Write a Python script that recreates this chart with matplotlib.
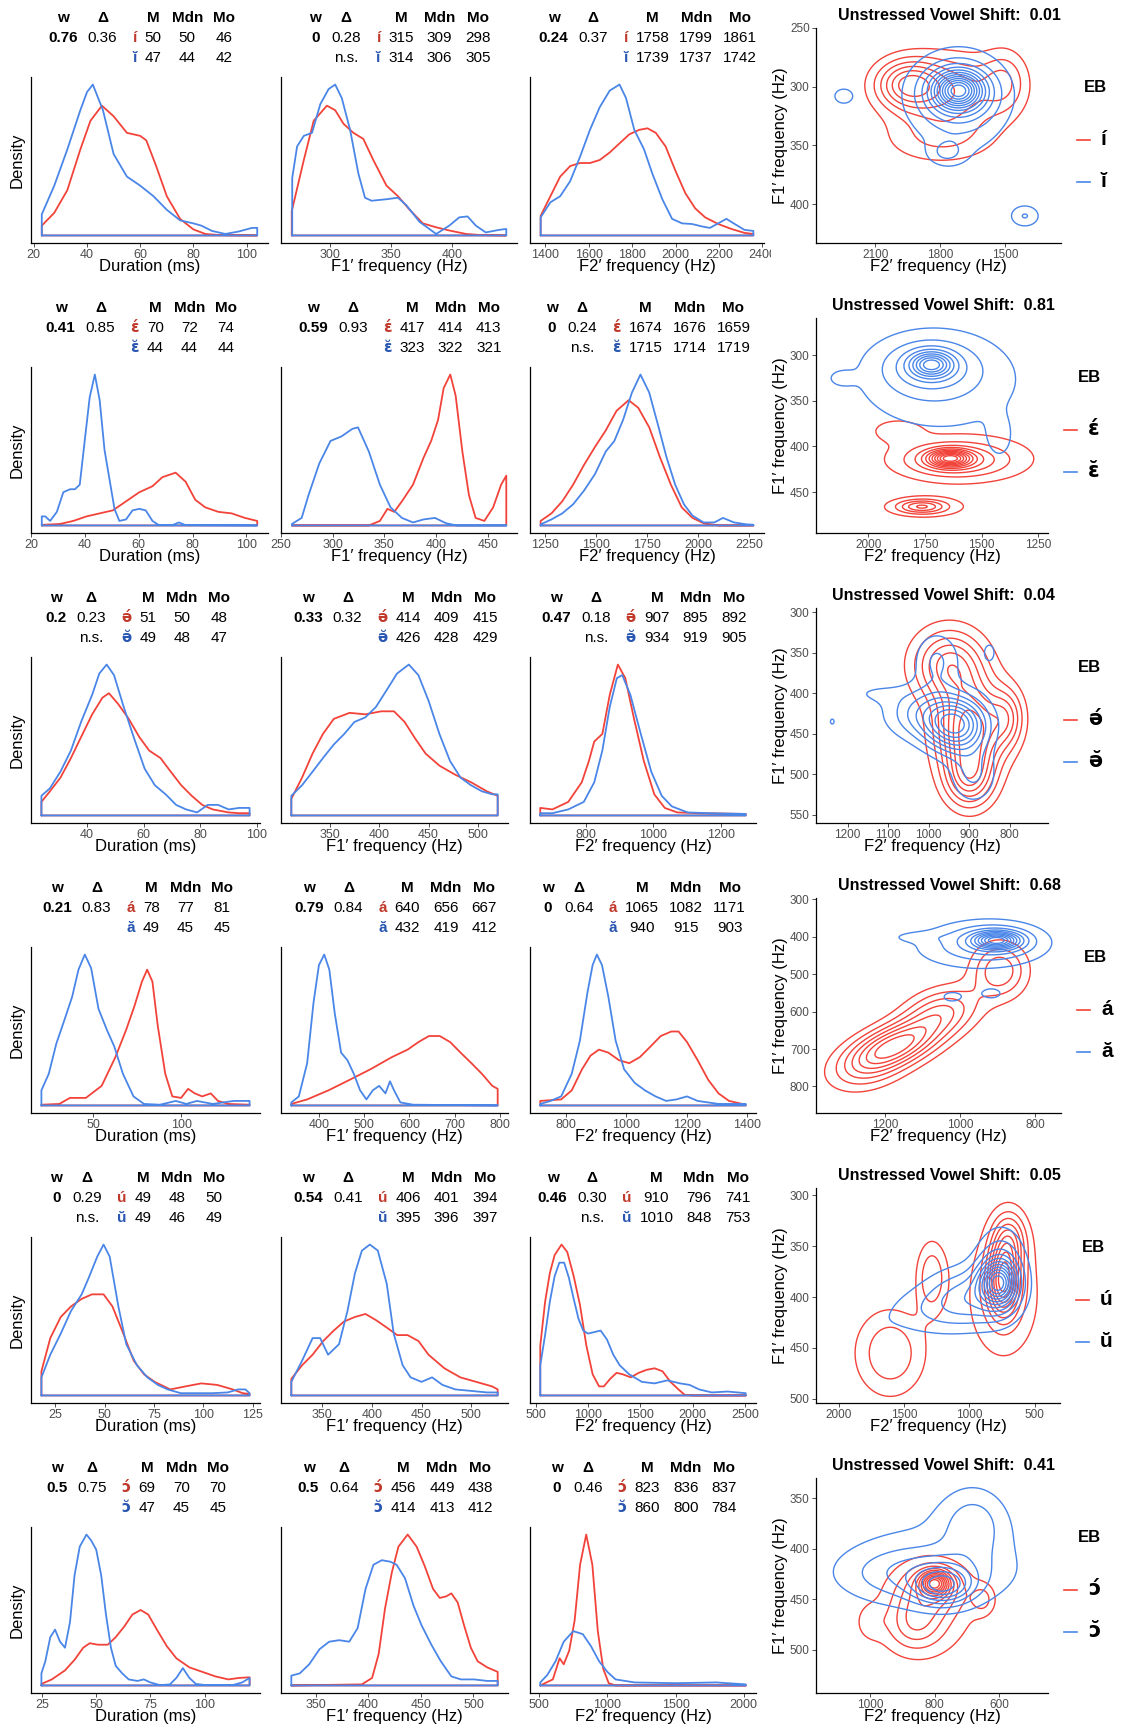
import numpy as np
import matplotlib
matplotlib.use('Agg')
import matplotlib.pyplot as plt
from matplotlib.lines import Line2D
from matplotlib.transforms import Bbox

plt.rcParams['font.family'] = ['Liberation Sans', 'DejaVu Sans']

W, H = 1122, 1729
RED = '#F2433A'
BLUE = '#4A86E8'
RED_T = '#C0392B'
BLUE_T = '#2856B0'
TICK_C = '#4D4D4D'

# ---------------- data ----------------
v_str = ['í', 'ɛ\u0301', 'ə\u0301', 'á', 'ú', 'ɔ\u0301']
v_uns = ['ĭ', 'ɛ\u0306', 'ə\u0306', 'ă', 'ŭ', 'ɔ\u0306']
shift_vals = ['0.01', '0.81', '0.04', '0.68', '0.05', '0.41']

w_vals = [['0.76', '0', '0.24'], ['0.41', '0.59', '0'], ['0.2', '0.33', '0.47'],
          ['0.21', '0.79', '0'], ['0', '0.54', '0.46'], ['0.5', '0.5', '0']]
delta_vals = [['0.36', '0.28', '0.37'], ['0.85', '0.93', '0.24'], ['0.23', '0.32', '0.18'],
              ['0.83', '0.84', '0.64'], ['0.29', '0.41', '0.30'], ['0.75', '0.64', '0.46']]
ns_flags = [[False, True, False], [False, False, True], [True, False, True],
            [False, False, False], [True, False, True], [False, False, False]]

stats_str = [[(50, 50, 46), (315, 309, 298), (1758, 1799, 1861)],
             [(70, 72, 74), (417, 414, 413), (1674, 1676, 1659)],
             [(51, 50, 48), (414, 409, 415), (907, 895, 892)],
             [(78, 77, 81), (640, 656, 667), (1065, 1082, 1171)],
             [(49, 48, 50), (406, 401, 394), (910, 796, 741)],
             [(69, 70, 70), (456, 449, 438), (823, 836, 837)]]
stats_uns = [[(47, 44, 42), (314, 306, 305), (1739, 1737, 1742)],
             [(44, 44, 44), (323, 322, 321), (1715, 1714, 1719)],
             [(49, 48, 47), (426, 428, 429), (934, 919, 905)],
             [(49, 45, 45), (432, 419, 412), (940, 915, 903)],
             [(49, 46, 49), (395, 396, 397), (1010, 848, 753)],
             [(47, 45, 45), (414, 413, 412), (860, 800, 784)]]

dens_xlabels = ['Duration (ms)', 'F1\u2032 frequency (Hz)', 'F2\u2032 frequency (Hz)']

ticks_dens = [[[20, 40, 60, 80, 100], [300, 350, 400], [1400, 1600, 1800, 2000, 2200, 2400]],
              [[20, 40, 60, 80, 100], [250, 300, 350, 400, 450], [1250, 1500, 1750, 2000, 2250]],
              [[40, 60, 80, 100], [350, 400, 450, 500], [800, 1000, 1200]],
              [[50, 100], [400, 500, 600, 700, 800], [800, 1000, 1200, 1400]],
              [[25, 50, 75, 100, 125], [350, 400, 450, 500], [500, 1000, 1500, 2000, 2500]],
              [[25, 50, 75, 100], [350, 400, 450, 500], [500, 1000, 1500, 2000]]]

# density curves (x, relative density)
r1_dur_str = [(23,6.5),(27.7,15),(32.6,30),(37.5,57),(41.3,76),(45.6,86),(50,79),(55,68),(60,66),(62.3,63),(66,46),(70,26),(75,11),(80,4),(84.5,1),(90,0.2),(104,0)]
r1_dur_uns = [(23,14),(27.7,33),(32.6,57),(37.5,83),(40,95),(42.2,100),(46,83),(50,54),(55,39),(60,33),(65,26),(70,17),(75,10),(80,8),(83,6.5),(87,3),(92,1),(97,2.6),(102,5),(104,5)]
r1_f1_str = [(269,16),(278.9,50),(287,76),(297.8,86),(304.6,83),(311.4,74),(319.5,68),(327.6,64),(335.8,50),(346.6,33),(356,26),(365.6,17),(376.4,8),(387.3,5.4),(398,3.3),(411.7,1),(425,0.2),(444.7,0)]
r1_f1_uns = [(269.4,38),(273.4,59),(278.9,66),(285.6,68),(292.4,87),(299.2,97),(304.6,100),(310,91),(316.8,70),(323.6,41),(329,25),(334.4,23),(346.6,24),(356,25),(362.9,20),(373.7,9),(387.3,1),(398,6.5),(406.2,12),(413,12.6),(419.8,6.5),(427.9,2),(438.8,3.7),(444.7,4.3)]
r1_f2_str = [(1379,13),(1424,26),(1469,39),(1515,46),(1560,48),(1606,48),(1651,50),(1697,55),(1742,61),(1787,67),(1833,70),(1871,71),(1909,68),(1954,59),(1999,43),(2045,28),(2090,18),(2136,12),(2196,7.6),(2257,4.3),(2317,1.7),(2358,1)]
r1_f2_uns = [(1379,12),(1424,22),(1469,26),(1515,36),(1560,52),(1606,70),(1651,85),(1697,96),(1742,100),(1772,91),(1810,70),(1855,57),(1893,41),(1939,24),(1984,11),(2030,8),(2075,7.6),(2121,6),(2158,5),(2196,8),(2234,11),(2272,7.6),(2317,3.7),(2358,3)]

r2_dur_str = [(24,0.4),(30.8,1),(35.7,3),(40.6,6),(45.5,8),(50.4,10),(55.3,16),(60.2,22),(65.1,26),(68.8,32),(73.7,35),(77.4,29),(81,17),(84.7,12),(89.6,9),(94.5,8),(99.4,5),(104,3)]
r2_dur_uns = [(24,6),(25.3,6),(27.1,3),(29.6,9),(32,22),(34.5,24),(36.3,24),(38.1,27),(40,57),(41.8,85),(43.7,100),(45.5,83),(47.3,50),(49.2,30),(51,11),(52.8,3),(55.3,4),(57.7,10),(60.2,11),(62.6,10),(65.1,3),(67.5,0.2),(72.5,0.2),(74.9,2),(77.4,0.2),(104,0)]
r2_f1_str = [(260.6,0),(335,0),(345.7,3),(353,11),(359.6,9),(367,16),(377.7,27),(388,45),(395.3,56),(402,70),(407.4,91),(413.8,100),(419,86),(425.5,49),(431.9,20),(438.3,5),(446.8,3),(455.3,12),(463,27),(468,33)]
r2_f1_uns = [(260.6,1),(270,5),(276.6,20),(287,41),(297.9,56),(308.5,59),(319,64),(324.5,65),(335,49),(345.7,27),(356,12),(367,5),(377.7,2),(388,4),(399,5),(409.6,1.5),(420,0),(468,0)]
r2_f2_str = [(1229,3),(1282,8),(1335,16),(1388,27),(1441,40),(1495,52),(1548,63),(1601,76),(1660,83),(1707,78),(1761,65),(1814,45),(1867,27),(1920,12),(1973,5),(2027,1.5),(2100,0),(2271,0)]
r2_f2_uns = [(1229,0.7),(1282,4),(1335,8),(1388,14),(1441,23),(1495,34),(1548,49),(1590,56),(1633,70),(1676,88),(1718,100),(1761,88),(1803,67),(1846,45),(1888,27),(1931,14),(1973,6.5),(2027,2),(2080,2),(2122,5),(2176,2),(2239,0.7),(2271,0.5)]

r3_dur_str = [(24,9),(27,16),(30.7,25),(34.4,38),(38,52),(41.9,67),(45.5,78),(47.8,81),(51,74),(54.8,64),(58.5,52),(62,43),(66,38),(69.6,29),(73.3,20),(77,13),(80.7,7),(84.4,4),(90,2),(93.7,1.5),(97.4,1.5)]
r3_dur_uns = [(24,13),(27,18),(30.7,29),(34.4,43),(38,62),(41.9,80),(44.4,94),(47,100),(49.6,93),(53,72),(56.7,51),(60.4,31),(64,20),(67.8,14),(71.5,7),(75,4),(78.9,2),(82.6,7),(86.3,7),(90,4),(93.7,5),(97.4,5)]
r3_f1_str = [(311,11),(321.8,25),(332.5,41),(343,54),(354,64),(370,68),(386,67),(402,69),(415,69),(425.7,62),(436.4,51),(447,41),(461,33),(477,27),(493,22),(509,16),(520,13)]
r3_f1_uns = [(311,13),(321.8,20),(332.5,29),(343,38),(354,47),(364.6,54),(375,62),(386,65),(396.8,72),(407.5,83),(418,94),(430,100),(439.7,93),(450,76),(461,54),(471.8,36),(482.5,25),(493,20),(504,16),(514.7,14),(520,14)]
r3_f2_str = [(665,5),(701,4),(748,9),(788,22),(809,36),(825,49),(849,54),(871,80),(895,100),(917,91),(942,65),(972,36),(1003,14),(1034,5),(1071,2),(1132,1.5),(1274,1)]
r3_f2_uns = [(665,1.5),(701,1.5),(748,4),(794,9),(825,22),(849,43),(871,72),(892,91),(908,93),(932,80),(963,54),(994,29),(1025,13),(1055,6),(1102,2),(1163,1.5),(1274,1)]

r4_dur_str = [(20.5,0.5),(30.7,1),(36.7,5),(45.8,5),(54.8,13),(62.6,32),(68.7,50),(73.5,66),(77.7,82),(80.7,90),(83.7,82),(86.7,53),(91,21),(95,6),(100,5),(104,11),(107.8,8),(112,6),(116.9,8),(121,3),(127,1),(139,0.5)]
r4_dur_uns = [(20.5,10),(24.7,21),(29,41),(33.7,57),(38,72),(41.6,90),(45.2,100),(48.8,91),(53,64),(57.8,50),(62,39),(66.9,21),(72.9,6),(78.9,1),(88,0.5),(97,3),(103,1),(109,3),(118,1),(130,3),(139,3)]
r4_f1_str = [(339,1),(374,4),(421,10),(468,17),(514,24),(561,32),(596,37),(620,42),(643,46),(667,46),(690,42),(713,35),(737,28),(760,21),(783,13),(795,11)]
r4_f1_uns = [(339,2),(355.6,6),(374,28),(388,68),(400,93),(411.7,100),(423,90),(435,61),(449,35),(463,30),(477,21),(491,10),(505,4),(519,10),(533,13),(547,8),(557,16),(566,10),(580,2),(608,0.5),(795,0)]
r4_f2_str = [(716,3),(785,4),(820,10),(854,24),(882,33),(910,37),(941,35),(976,30),(1010,28),(1045,32),(1080,39),(1114,46),(1149,49),(1173,49),(1201,42),(1236,30),(1271,17),(1305,8),(1340,3),(1395,0.5)]
r4_f2_uns = [(716,1),(750,3),(785,6),(820,21),(847,43),(872,75),(889,93),(903,100),(920,93),(941,72),(965,43),(993,24),(1028,15),(1062,10),(1097,6),(1132,3),(1166,4),(1201,6),(1236,3),(1305,1),(1395,1)]

r5_dur_str = [(18,16),(22.5,38),(27.8,52),(33,59),(38.4,64),(43.6,67),(49.5,67),(54,59),(59.5,41),(64.8,23),(70,14),(75.4,9),(83.3,4),(91,6),(99,8),(107,7),(115,4),(120,1.5),(123.5,1)]
r5_dur_uns = [(18,12),(22.5,27),(27.8,41),(33,56),(38.4,67),(42,78),(46.3,92),(49.5,100),(52.6,92),(57,59),(61,34),(66.4,20),(71.7,12),(77,7),(82,4),(88.6,1.5),(104.5,1.5),(112.4,2),(117.7,4),(121.4,4),(123.5,1.5)]
r5_f1_str = [(319,11),(329.8,20),(340.4,27),(351,36),(361.7,43),(372,49),(383,52),(393.6,54),(404,50),(415,45),(425.5,40),(436,40),(447,36),(457,27),(473,18),(489,12),(505,9),(521,6),(526.6,4)]
r5_f1_uns = [(319,9),(329.8,23),(340.4,38),(348,38),(356,27),(367,34),(375.5,56),(383,81),(390,96),(398,100),(406,96),(415,74),(422,41),(431,20),(439,12),(450,9),(460.6,12),(471,7),(484,4),(500,3),(516,2),(526.6,2)]
r5_f2_str = [(545,33),(591,62),(636,81),(682,93),(748,100),(803,95),(864,79),(924,60),(985,33),(1045,14),(1106,6),(1152,6),(1212,11),(1273,15),(1333,14),(1409,12),(1485,15),(1561,17),(1636,18),(1712,16),(1788,9),(1864,4),(1924,0.4),(2000,0),(2506,0)]
r5_f2_uns = [(545,20),(591,40),(636,62),(682,79),(727,88),(773,88),(818,78),(864,64),(909,51),(955,43),(1000,41),(1061,42),(1121,43),(1182,37),(1242,27),(1303,20),(1394,14),(1515,9),(1636,8),(1758,10),(1879,8),(1970,7),(2061,4),(2182,2),(2333,2.6),(2506,1.5)]

r6_dur_str = [(24.7,1),(29.5,4),(35.6,10),(40,17),(44,25),(47,28),(50.8,27),(55.3,27),(59,32),(62.9,39),(66.7,47),(70.5,50),(74,47),(78,37),(82.6,26),(87,18),(93,12),(99,9),(105,6),(111,4),(116,5),(120.8,5.4)]
r6_dur_uns = [(24.7,8),(26.5,16),(28.8,32),(31,37),(33.3,29),(35.6,25),(37.9,42),(40,73),(42.4,92),(45.5,100),(47.7,96),(50,90),(52.3,73),(54.5,47),(56.8,25),(59,13),(62,8),(65,4),(69,3),(72,4),(75,2),(79.5,0.2),(84,0.7),(87,5),(90,11.5),(93,5),(96,1),(100.8,0.2),(112.9,0.2),(117.4,2),(120.8,5)]
r6_f1_str = [(327,0),(394,0.7),(403.75,5),(410,21),(416,51),(422.5,75),(428.75,92),(437.5,100),(446,92),(453.75,79),(461.6,64),(468,58),(474,59),(479,61),(485,55),(491,40),(497.5,25),(504,16),(513,12),(523,9)]
r6_f1_uns = [(327,6.5),(335,8),(344,14),(353.75,24),(363,29),(372.5,30),(382,29),(390,38),(397.5,64),(405,80),(413,83),(421,82),(427,80),(435,71),(443,53),(450.6,40),(460,27),(469,16),(479,6),(488,4),(500.6,4),(513,3),(523,3)]
r6_f2_str = [(508,0),(600,4),(650,18),(680,14),(720,23),(760,43),(800,80),(845,100),(890,80),(930,36),(970,11),(1010,1.5),(1060,0),(2015,0)]
r6_f2_uns = [(508,2),(560,7),(620,16),(680,29),(750,36),(820,34),(880,26),(940,16),(1000,9),(1060,4),(1200,2),(1500,1.5),(1800,2),(2015,0.7)]

dens_str = [[r1_dur_str, r1_f1_str, r1_f2_str], [r2_dur_str, r2_f1_str, r2_f2_str],
            [r3_dur_str, r3_f1_str, r3_f2_str], [r4_dur_str, r4_f1_str, r4_f2_str],
            [r5_dur_str, r5_f1_str, r5_f2_str], [r6_dur_str, r6_f1_str, r6_f2_str]]
dens_uns = [[r1_dur_uns, r1_f1_uns, r1_f2_uns], [r2_dur_uns, r2_f1_uns, r2_f2_uns],
            [r3_dur_uns, r3_f1_uns, r3_f2_uns], [r4_dur_uns, r4_f1_uns, r4_f2_uns],
            [r5_dur_uns, r5_f1_uns, r5_f2_uns], [r6_dur_uns, r6_f1_uns, r6_f2_uns]]

# 2-D density clusters (F2, F1, sdF2, sdF1, height, rho)
c1_str = [(1950,298,100,14,1.0,0),(1750,305,180,22,0.7,0),(1500,295,70,18,0.45,0),(1800,345,180,15,0.35,0)]
c1_uns = [(1715,303,70,10,1.0,0),(1720,305,130,18,0.45,0),(1711,316,170,36,0.22,0),(1770,356,55,7,0.2,0),(2246,308,48,7,0.18,0),(1408,410,51,7,0.26,0)]
c2_str = [(1640,413,60,6,1.0,0),(1620,415,150,12,0.45,0),(1570,412,270,24,0.2,0),(1875,382,80,9,0.2,0),(1765,466,70,5,0.5,0),(1750,467,150,9,0.2,0)]
c2_uns = [(1721,310,60,9,1.0,0),(1730,312,140,20,0.45,0),(1680,330,300,45,0.3,0),(1420,392,40,16,0.2,0),(2125,325,45,7,0.13,0)]
c3_str = [(898,445,55,40,1.0,0),(950,365,60,30,0.7,0),(808,430,30,25,0.45,0),(900,505,40,25,0.6,0)]
c3_uns = [(931,441,50,22,1.0,0),(1000,425,70,22,0.5,0),(980,360,40,25,0.3,0),(890,500,40,25,0.3,0),(1140,400,55,10,0.12,0),(1238,435,12,8,0.15,0),(850,350,30,25,0.15,0)]
c4_str = [(1169,689,80,45,1.0,0.5),(1050,600,70,45,0.55,0.3),(895,490,50,50,0.55,0),(1250,750,70,45,0.35,0.3)]
c4_uns = [(902,409,40,15,1.0,0),(910,412,90,35,0.4,0),(980,430,140,50,0.18,0),(1120,400,50,10,0.1,0),(1022,561,35,18,0.16,0),(916,552,35,18,0.16,0)]
c5_str = [(740,385,80,22,1.0,0),(700,345,90,20,0.6,0),(740,400,200,45,0.3,0),(1606,455,183,29,0.4,0),(1288,381,80,24,0.4,0)]
c5_uns = [(779,386,90,14,1.0,0),(760,375,130,28,0.45,0),(1000,400,220,20,0.45,0),(1350,415,250,18,0.18,0),(1850,432,180,15,0.1,0)]
c6_str = [(799,434,30,8,1.0,0),(810,440,70,18,0.45,0),(860,475,60,18,0.35,0),(822,465,130,35,0.18,0),(650,450,25,10,0.25,0),(1000,473,30,12,0.15,0)]
c6_uns = [(773,437,60,12,1.0,0),(850,425,150,18,0.5,0),(680,375,70,25,0.4,0),(800,410,240,42,0.22,0)]
cont_str = [c1_str, c2_str, c3_str, c4_str, c5_str, c6_str]
cont_uns = [c1_uns, c2_uns, c3_uns, c4_uns, c5_uns, c6_uns]
rings_str = [6, 11, 7, 7, 9, 11]
rings_uns = [12, 9, 8, 10, 11, 7]

cont_xlim = [(2374, 1241), (2232, 1206), (1278, 706), (1385, 731), (2173, 308), (1168, 448)]
cont_ylim = [(433, 251), (495, 259), (560, 295), (871, 296), (504, 293), (543, 330)]
cont_xticks = [[2100, 1800, 1500], [2000, 1750, 1500, 1250], [1200, 1100, 1000, 900, 800],
               [1200, 1000, 800], [2000, 1500, 1000, 500], [1000, 800, 600]]
cont_yticks = [[250, 300, 350, 400], [300, 350, 400, 450], [300, 350, 400, 450, 500, 550],
               [300, 400, 500, 600, 700, 800], [300, 350, 400, 450, 500], [350, 400, 450, 500]]

# ---------------- layout (pixels) ----------------
dens_x = [[(31, 268), (281, 517), (530, 764)]] * 2 + [[(31, 260), (281, 508), (530, 756)]] * 4
cont_right = [1061, 1048, 1048, 1061, 1060, 1048]
eb_x = [1095, 1089, 1089, 1095, 1093, 1089]
ROW = 290
XLAB_Y = 266

fig = plt.figure(figsize=(W / 100, H / 100), dpi=100)
renderer = fig.canvas.get_renderer()


def fx(px):
    return px / W


def fy(py):
    return 1 - py / H


def ax_px(l, t, r, b):
    return fig.add_axes([l / W, 1 - b / H, (r - l) / W, (b - t) / H])


def fam_for(s):
    # strings with combining marks are set in DejaVu Sans so the mark sits over its letter
    if any(0x0300 <= ord(ch) <= 0x036F for ch in s):
        return ['DejaVu Sans']
    return ['Liberation Sans', 'DejaVu Sans']


def text_width(s, size, weight):
    t = fig.text(0, 0, s, fontsize=size, fontweight=weight, family=fam_for(s))
    w = t.get_window_extent(renderer).width
    t.remove()
    return w


TS = 11


def draw_table(cx, row, wv, dv, ns, vs, vu, st, un):
    y0 = ROW * row
    cols = [
        [('w', 'bold', 'black'), (wv, 'bold', 'black'), ('', 'normal', 'black')],
        [('Δ', 'bold', 'black'), (dv, 'normal', 'black'), ('n.s.' if ns else '', 'normal', 'black')],
        [('', 'bold', 'black'), (vs, 'bold', RED_T), (vu, 'bold', BLUE_T)],
        [('M', 'bold', 'black'), (str(st[0]), 'normal', 'black'), (str(un[0]), 'normal', 'black')],
        [('Mdn', 'bold', 'black'), (str(st[1]), 'normal', 'black'), (str(un[1]), 'normal', 'black')],
        [('Mo', 'bold', 'black'), (str(st[2]), 'normal', 'black'), (str(un[2]), 'normal', 'black')],
    ]
    widths = [max(text_width(s, TS, wt) for s, wt, c in col if s) for col in cols]
    gaps = [10, 15, 8, 10, 10, 0]
    total = sum(widths) + sum(gaps)
    x = cx - total / 2
    ys = [21.5, 42.5, 62.5]
    for i, col in enumerate(cols):
        xc = x + widths[i] / 2
        for j, (s, wt, c) in enumerate(col):
            if s:
                fig.text(fx(xc), fy(y0 + ys[j]), s, ha='center', va='baseline',
                         fontsize=TS, fontweight=wt, color=c, family=fam_for(s))
        x += widths[i] + gaps[i]


def style_axis(ax, size=9):
    ax.spines[['top', 'right']].set_visible(False)
    for sp in ['left', 'bottom']:
        ax.spines[sp].set_linewidth(0.9)
        ax.spines[sp].set_color('black')
    ax.set_facecolor('none')
    ax.tick_params(length=3, width=0.6, color='#333333', labelsize=size, labelcolor=TICK_C, pad=1.5)


def mixture(X, Y, comps):
    Z = np.zeros_like(X)
    for mx, my, sx, sy, h, rho in comps:
        dx = (X - mx) / sx
        dy = (Y - my) / sy
        q = (dx ** 2 - 2 * rho * dx * dy + dy ** 2) / (1 - rho ** 2)
        Z += h * np.exp(-0.5 * q)
    return Z


clip_box = Bbox.from_extents(0, 0, 771, H)

for r in range(6):
    top = 77 + ROW * r
    bot = 243 + ROW * r
    for p in range(3):
        l, rr = dens_x[r][p]
        ax = ax_px(l, top, rr, bot)
        for pts, col in [(dens_str[r][p], RED), (dens_uns[r][p], BLUE)]:
            xs = [q[0] for q in pts]
            ys = [q[1] for q in pts]
            ax.plot([xs[0]] + xs + [xs[-1], xs[0]], [0] + ys + [0, 0], color=col, lw=1.3,
                    solid_joinstyle='round', solid_capstyle='round')
        ax.set_xticks(ticks_dens[r][p])
        ax.set_yticks([])
        style_axis(ax)
        if p == 2:
            for lab in ax.get_xticklabels():
                lab.set_clip_box(clip_box)
                lab.set_clip_on(True)
        fig.text(fx((l + rr) / 2), fy(XLAB_Y + ROW * r), dens_xlabels[p], ha='center', va='center', fontsize=12)
        if p == 0:
            fig.text(fx(17), fy((top + bot) / 2), 'Density', rotation=90, ha='center', va='center', fontsize=12)
        cx = (l + rr) / 2 - (8 if p == 0 else -1)
        draw_table(cx, r, w_vals[r][p], delta_vals[r][p], ns_flags[r][p], v_str[r], v_uns[r],
                   stats_str[r][p], stats_uns[r][p])

    # contour panel
    ct = 28 + ROW * r
    cl = 816
    cr = cont_right[r]
    ax = ax_px(cl, ct, cr, bot)
    xl = cont_xlim[r]
    yl = cont_ylim[r]
    X, Y = np.meshgrid(np.linspace(min(xl), max(xl), 400), np.linspace(min(yl), max(yl), 400))
    for comps, n, col in [(cont_str[r], rings_str[r], RED), (cont_uns[r], rings_uns[r], BLUE)]:
        Z = mixture(X, Y, comps)
        pk = Z.max()
        levels = pk * np.arange(1, n + 1) / (n + 1)
        ax.contour(X, Y, Z, levels=levels, colors=col, linewidths=1.0)
    ax.set_xlim(xl)
    ax.set_ylim(yl)
    ax.set_xticks(cont_xticks[r])
    ax.set_yticks(cont_yticks[r])
    style_axis(ax, 8.5)
    fig.text(fx((cl + cr) / 2), fy(XLAB_Y + ROW * r), 'F2\u2032 frequency (Hz)', ha='center', va='center', fontsize=12)
    fig.text(fx(780), fy((ct + bot) / 2), 'F1\u2032 frequency (Hz)', rotation=90, ha='center', va='center', fontsize=12)
    fig.text(fx((cl + cr) / 2 + 11), fy(16 + ROW * r), 'Unstressed Vowel Shift:  ' + shift_vals[r],
             ha='center', va='center', fontsize=11.5, fontweight='bold')
    # legend
    fig.text(fx(eb_x[r]), fy(88 + ROW * r), 'EB', ha='center', va='center', fontsize=12, fontweight='bold')
    kl = cr + 16
    for k, (lab, col) in enumerate([(v_str[r], RED), (v_uns[r], BLUE)]):
        yy = 140 + 42 * k + ROW * r
        fig.add_artist(Line2D([fx(kl), fx(kl + 13)], [fy(yy), fy(yy)], color=col, lw=1.2))
        fig.text(fx(kl + 24), fy(yy + 5), lab, ha='left', va='baseline', fontsize=15, fontweight='bold',
                 family=fam_for(lab))

fig.savefig('out.png', dpi=100)
